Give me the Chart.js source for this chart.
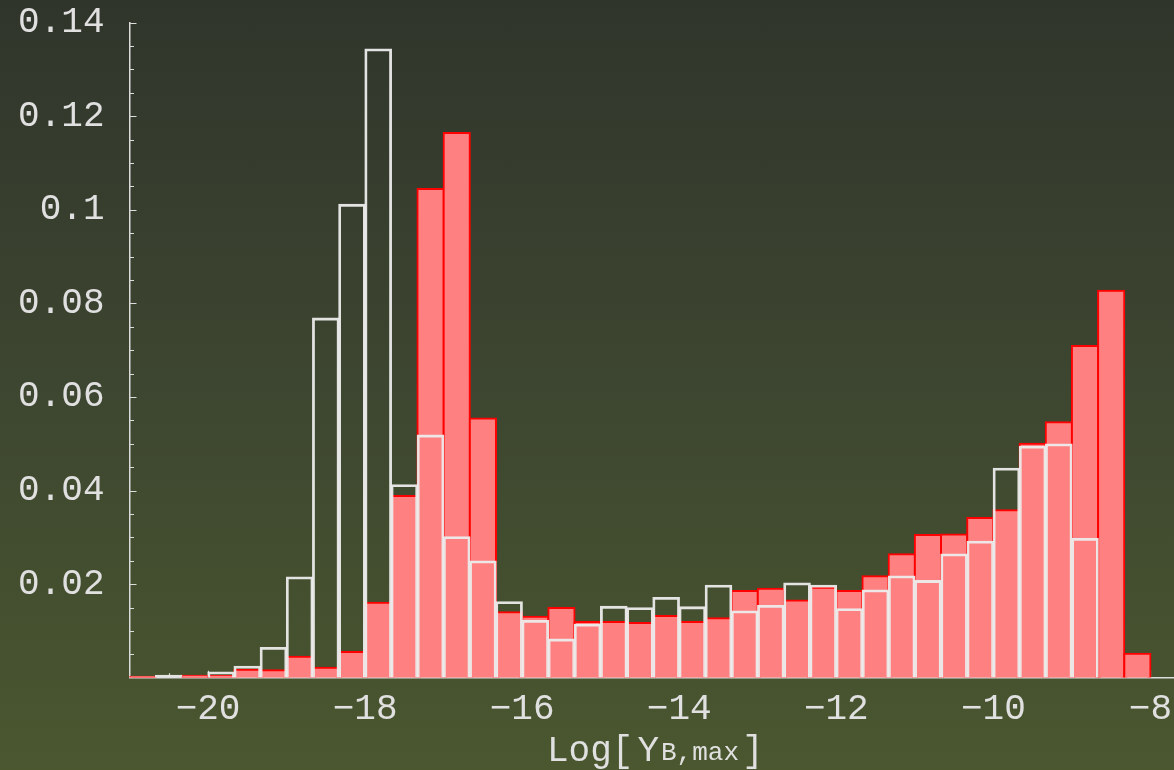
<!DOCTYPE html>
<html>
<head>
<meta charset="utf-8">
<script src="https://cdn.jsdelivr.net/npm/chart.js@4.4.1/dist/chart.umd.min.js"></script>
<style>
  html, body { margin: 0; padding: 0; }
  body {
    width: 1174px;
    height: 770px;
    overflow: hidden;
    background: linear-gradient(to bottom, #30352b 0%, #3d4630 50%, #4a572f 100%);
  }
  canvas { display: block; }
</style>
</head>
<body>
<canvas id="histograma" width="1174" height="770"></canvas>
<script>
// Histograma de Log[Y_B,max]: bins de 1/3 entre -21 y -8
const inicioBins = -21;
const anchoBin = 1 / 3;

// Serie rellena (roja)
const valoresRojos = [
  0.0002, 0.0000, 0.0004, 0.0004, 0.0017, 0.0016, 0.0045, 0.0021, 0.0055, 0.0160,
  0.0388, 0.1044, 0.1164, 0.0554, 0.0140, 0.0130, 0.0149, 0.0119, 0.0119, 0.0117,
  0.0132, 0.0119, 0.0127, 0.0185, 0.0190, 0.0165, 0.0192, 0.0185, 0.0217, 0.0264,
  0.0305, 0.0306, 0.0341, 0.0358, 0.0500, 0.0546, 0.0709, 0.0827, 0.0051,
];

// Serie solo contorno (blanca)
const valoresBlancos = [
  0.0000, 0.0005, 0.0000, 0.0012, 0.0024, 0.0064, 0.0215, 0.0768, 0.1011, 0.1343,
  0.0412, 0.0518, 0.0301, 0.0249, 0.0162, 0.0122, 0.0082, 0.0114, 0.0152, 0.0149,
  0.0171, 0.0151, 0.0197, 0.0142, 0.0154, 0.0202, 0.0197, 0.0147, 0.0187, 0.0217,
  0.0207, 0.0264, 0.0291, 0.0447, 0.0494, 0.0499, 0.0297, 0.0000, 0.0000,
];

// Marcas y etiquetas de los ejes
const ticksX = [-20, -18, -16, -14, -12, -10, -8];
const etiquetasX = ["\u221220", "\u221218", "\u221216", "\u221214", "\u221212", "\u221210", "\u22128"];
const ticksY = [0.02, 0.04, 0.06, 0.08, 0.1, 0.12, 0.14];
const etiquetasY = ["0.02", "0.04", "0.06", "0.08", "0.1", "0.12", "0.14"];

const colorEje = "#dcdcdc";
const colorTexto = "#e0e0e0";
const fuenteMono = "'Liberation Mono', 'Courier New', monospace";

const centros = valoresRojos.map((_, i) => inicioBins + (i + 0.5) * anchoBin);

// Sin relleno extra por las etiquetas: el área del gráfico la fija el layout
function sinRelleno(escala) {
  escala.paddingTop = 0;
  escala.paddingBottom = 0;
  escala.paddingLeft = 0;
  escala.paddingRight = 0;
}

// Marcas hacia dentro (mayores y menores), dibujadas bajo las barras
const marcasEjes = {
  id: "marcasEjes",
  beforeDatasetsDraw(chart) {
    const { ctx, scales: { x, y } } = chart;
    ctx.save();
    ctx.strokeStyle = colorEje;
    ctx.lineWidth = 1.2;
    ctx.beginPath();
    for (let i = 1; i <= 28; i++) {
      const py = Math.round(y.getPixelForValue(i * 0.005)) + 0.5;
      const largo = i % 4 === 0 ? 7 : 4.5;
      ctx.moveTo(x.left, py);
      ctx.lineTo(x.left + largo, py);
    }
    for (let i = 1; i <= 26; i++) {
      const v = inicioBins + i * 0.5;
      const px = Math.round(x.getPixelForValue(v)) + 0.5;
      const largo = v % 2 === 0 ? 7 : 4.5;
      ctx.moveTo(px, y.bottom);
      ctx.lineTo(px, y.bottom - largo);
    }
    ctx.stroke();
    ctx.restore();
  },
  // Título del eje x con subíndice
  afterDraw(chart) {
    const { ctx } = chart;
    ctx.save();
    ctx.fillStyle = colorTexto;
    ctx.textBaseline = "alphabetic";
    ctx.textAlign = "left";
    let px = 547;
    ctx.font = `36px ${fuenteMono}`;
    ctx.fillText("Log[", px, 761);
    px += ctx.measureText("Log[").width + 4;
    ctx.fillText("Y", px, 761);
    px += ctx.measureText("Y").width + 2;
    ctx.font = `26px ${fuenteMono}`;
    ctx.fillText("B,max", px, 760);
    px += ctx.measureText("B,max").width + 3;
    ctx.font = `36px ${fuenteMono}`;
    ctx.fillText("]", px, 761);
    ctx.restore();
  },
};

const config = {
  type: "bar",
  data: {
    datasets: [
      {
        label: "contorno",
        data: centros.map((c, i) => ({ x: c, y: valoresBlancos[i] })),
        backgroundColor: "rgba(0,0,0,0)",
        borderColor: "rgba(236,236,236,0.95)",
        borderWidth: 1.4,
        inflateAmount: 0.7,
        grouped: false,
        order: 0,
      },
      {
        label: "relleno",
        data: centros.map((c, i) => ({ x: c, y: valoresRojos[i] })),
        backgroundColor: "#ff8080",
        borderColor: "#ff0000",
        borderWidth: 2,
        inflateAmount: 1,
        grouped: false,
        order: 1,
      },
    ],
  },
  options: {
    responsive: false,
    animation: false,
    devicePixelRatio: 1,
    layout: { autoPadding: false, padding: { top: 22.5, left: 0, right: 0, bottom: 0 } },
    plugins: { legend: { display: false }, tooltip: { enabled: false } },
    datasets: { bar: { categoryPercentage: 1, barPercentage: 1 } },
    scales: {
      x: {
        type: "linear",
        min: inicioBins,
        max: -7.7,
        offset: false,
        afterFit: (escala) => { escala.height = 92.3; sinRelleno(escala); },
        afterBuildTicks: (escala) => { escala.ticks = ticksX.map((v) => ({ value: v })); },
        grid: { display: false, drawTicks: false },
        border: { display: true, color: colorEje, width: 1.5 },
        ticks: {
          color: colorTexto,
          font: { family: fuenteMono, size: 36 },
          padding: 10,
          maxRotation: 0,
          autoSkip: false,
          callback: (valor) => etiquetasX[ticksX.indexOf(valor)],
        },
      },
      y: {
        min: 0,
        max: 0.14,
        afterFit: (escala) => { escala.width = 129.5; sinRelleno(escala); },
        afterBuildTicks: (escala) => { escala.ticks = ticksY.map((v) => ({ value: v })); },
        grid: { display: false, drawTicks: false },
        border: { display: true, color: colorEje, width: 1.5 },
        ticks: {
          color: colorTexto,
          font: { family: fuenteMono, size: 36 },
          padding: 25,
          autoSkip: false,
          callback: (valor) => etiquetasY[ticksY.indexOf(valor)],
        },
      },
    },
  },
  plugins: [marcasEjes],
};

const grafico = new Chart(document.getElementById("histograma"), config);
</script>
</body>
</html>
